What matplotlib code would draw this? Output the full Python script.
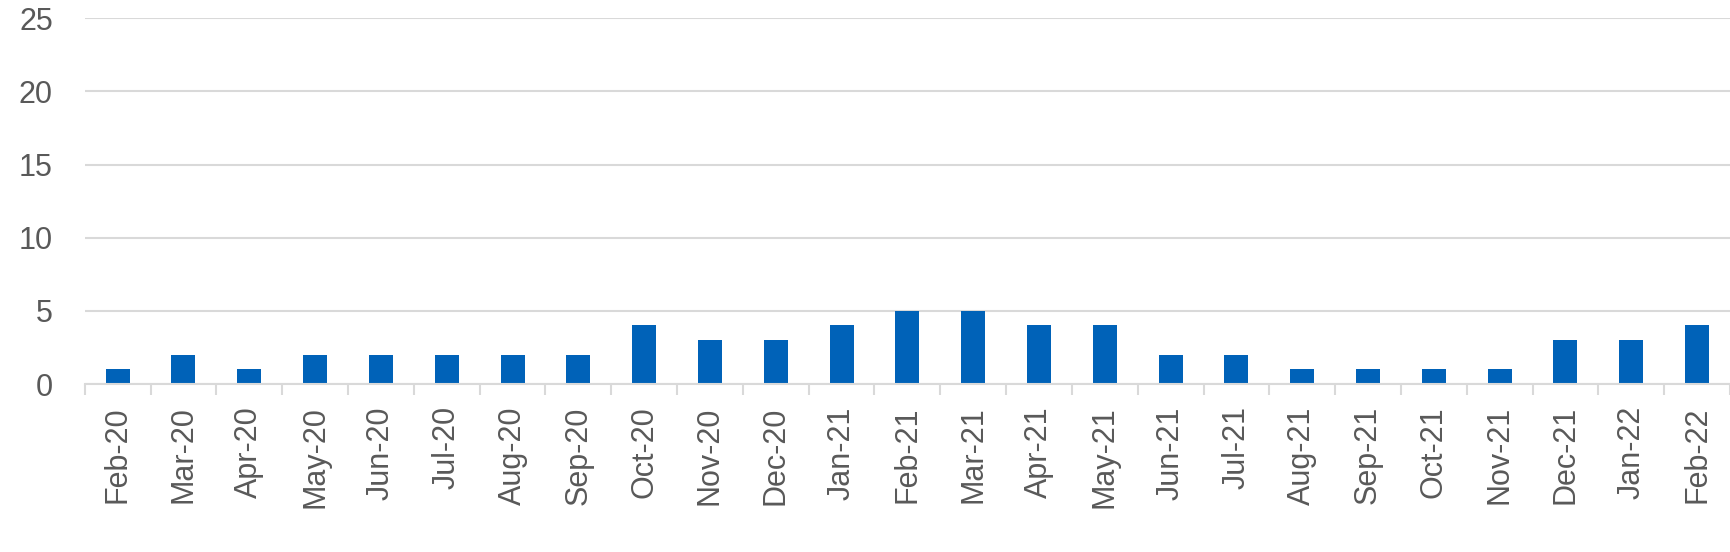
import matplotlib.pyplot as plt
import numpy as np

months = ["Feb-20", "Mar-20", "Apr-20", "May-20", "Jun-20", "Jul-20", "Aug-20",
          "Sep-20", "Oct-20", "Nov-20", "Dec-20", "Jan-21", "Feb-21", "Mar-21",
          "Apr-21", "May-21", "Jun-21", "Jul-21", "Aug-21", "Sep-21", "Oct-21",
          "Nov-21", "Dec-21", "Jan-22", "Feb-22"]
counts = [1, 2, 1, 2, 2, 2, 2, 2, 4, 3, 3, 4, 5, 5, 4, 4, 2, 2, 1, 1, 1, 1, 3, 3, 4]

plt.rcParams['font.family'] = ['Liberation Sans', 'DejaVu Sans']

fig = plt.figure(figsize=(17.3, 5.52), dpi=100)
ax = fig.add_axes([0.049, 0.3043, 0.951, 0.6627])

x = np.arange(len(months))
ax.bar(x, counts, width=0.365, color='#0062B8', zorder=3)

ax.set_xlim(-0.5, len(months) - 0.5)
ax.set_ylim(0, 25)
ax.set_yticks(range(0, 26, 5))
# gridlines ~2px wide
ax.grid(axis='y', color='#D9D9D9', linewidth=1.5, zorder=0)

ax.set_xticks(x)
ax.set_xticklabels(months, rotation=90)
ax.set_xticks(np.arange(-0.5, len(months), 1), minor=True)
ax.tick_params(axis='x', which='major', length=0, pad=16, labelsize=22, labelcolor='#595959')
ax.tick_params(axis='x', which='minor', length=8, width=1.5, color='#D9D9D9')
ax.tick_params(axis='y', length=0, pad=23, labelsize=22, labelcolor='#595959')

for s in ['top', 'right', 'left']:
    ax.spines[s].set_visible(False)
ax.spines['bottom'].set_color('#D9D9D9')
ax.spines['bottom'].set_linewidth(1.5)
ax.spines['bottom'].set_zorder(4)

fig.savefig('out.png', dpi=100)
